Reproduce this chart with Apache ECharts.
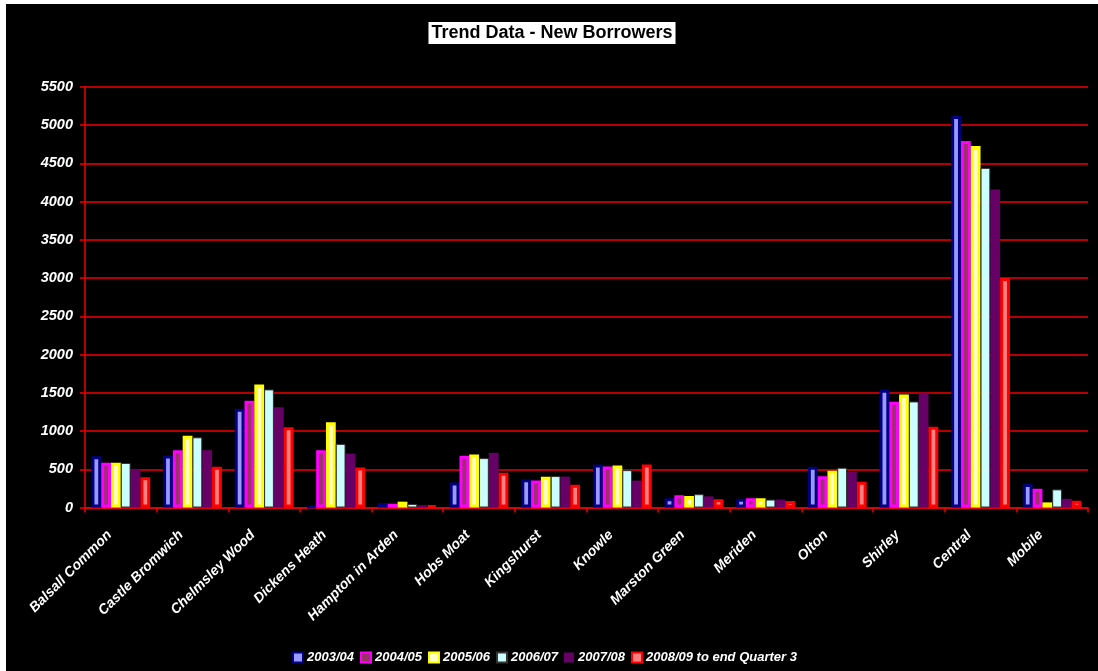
<!DOCTYPE html>
<html>
<head>
<meta charset="utf-8">
<script src="https://cdn.jsdelivr.net/npm/echarts@6/dist/echarts.min.js"></script>
<style>
html,body{margin:0;padding:0;background:#ffffff;width:1098px;height:671px;overflow:hidden;}
#chart{position:absolute;left:6px;top:4px;width:1092px;height:667px;background:#000000;}
</style>
</head>
<body>
<div id="chart"></div>
<script>
var categories = ['Balsall Common','Castle Bromwich','Chelmsley Wood','Dickens Heath','Hampton in Arden','Hobs Moat','Kingshurst','Knowle','Marston Green','Meriden','Olton','Shirley','Central','Mobile'];
var seriesNames = ['2003/04','2004/05','2005/06','2006/07','2007/08','2008/09 to end Quarter 3'];
var v2003 = [670, 680, 1290, 15, 59, 327, 371, 562, 121, 113, 532, 1540, 5120, 306];
var v2004 = [585, 750, 1395, 750, 50, 676, 354, 536, 160, 121, 410, 1382, 4793, 245];
var v2005 = [585, 940, 1610, 1115, 76, 693, 402, 549, 152, 121, 480, 1478, 4728, 67];
var v2006 = [582, 918, 1545, 832, 46, 646, 411, 489, 174, 104, 520, 1387, 4442, 237];
var v2007 = [505, 750, 1310, 705, 30, 715, 404, 352, 146, 104, 469, 1502, 4160, 113];
var v2008 = [395, 532, 1050, 523, 24, 454, 297, 562, 109, 84, 336, 1056, 3003, 88];
var yTicks = {min: 0, max: 5500, interval: 500};

var allValues = [v2003, v2004, v2005, v2006, v2007, v2008];
var styles = [
  {color: '#9999FF', borderColor: '#000080', borderWidth: 3},
  {color: '#993366', borderColor: '#FF00FF', borderWidth: 3},
  {color: '#FFFFCC', borderColor: '#FFFF00', borderWidth: 3},
  {color: '#CCFFFF', borderColor: '#333333', borderWidth: 1},
  {color: '#660066', borderColor: '#660066', borderWidth: 0},
  {color: '#FF8080', borderColor: '#FF0000', borderWidth: 3}
];

var font = 'Liberation Sans, Arial, sans-serif';
var chart = echarts.init(document.getElementById('chart'), null, {renderer: 'canvas'});
var series = seriesNames.map(function (n, i) {
  return {
    name: n,
    type: 'bar',
    data: allValues[i],
    barGap: '0%',
    barCategoryGap: '18%',
    itemStyle: styles[i],
    emphasis: {disabled: true},
    animation: false
  };
});

chart.setOption({
  backgroundColor: '#000000',
  animation: false,
  title: {
    text: 'Trend Data - New Borrowers',
    left: 'center',
    top: 18,
    backgroundColor: '#ffffff',
    padding: [2, 3, 2, 3],
    textStyle: {color: '#000000', fontFamily: font, fontWeight: 'bold', fontSize: 18}
  },
  legend: {
    data: seriesNames,
    bottom: 2,
    left: 281,
    padding: 5,
    itemWidth: 10,
    itemHeight: 10,
    itemGap: 6,
    icon: 'rect',
    textStyle: {color: '#ffffff', fontFamily: font, fontWeight: 'bold', fontStyle: 'italic', fontSize: 13, padding: [0, 0, 0, -1]}
  },
  grid: {left: 79, right: 10, top: 83, bottom: 163.5, containLabel: false},
  xAxis: {
    type: 'category',
    data: categories,
    axisLine: {show: true, lineStyle: {color: '#F00000', width: 1.5}},
    axisTick: {show: true, length: 5, lineStyle: {color: '#F00000', width: 1.5}},
    axisLabel: {
      interval: 0,
      rotate: 45,
      margin: 14,
      padding: [0, 16, 0, 0],
      color: '#ffffff',
      fontFamily: font,
      fontWeight: 'bold',
      fontStyle: 'italic',
      fontSize: 14
    },
    splitLine: {show: false}
  },
  yAxis: {
    type: 'value',
    min: yTicks.min,
    max: yTicks.max,
    interval: yTicks.interval,
    axisLine: {show: true, lineStyle: {color: '#F00000', width: 1.5}},
    axisTick: {show: true, length: 5, lineStyle: {color: '#F00000', width: 1.5}},
    axisLabel: {
      margin: 12,
      color: '#ffffff',
      fontFamily: font,
      fontWeight: 'bold',
      fontStyle: 'italic',
      fontSize: 14.5,
      formatter: function (v) { return String(v); }
    },
    splitLine: {show: true, lineStyle: {color: '#F00000', width: 1.5}}
  },
  series: series
});
</script>
</body>
</html>
